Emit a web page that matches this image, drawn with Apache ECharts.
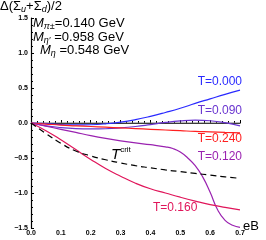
<!DOCTYPE html>
<html><head><meta charset="utf-8">
<script src="https://cdn.jsdelivr.net/npm/echarts@6/dist/echarts.min.js"></script>
<style>html,body{margin:0;padding:0;background:#fff}#c{width:266px;height:240px}</style>
</head><body><div id="c"></div>
<script>
const eB = [0,0.05,0.1,0.15,0.2,0.25,0.3,0.35,0.4,0.45,0.5,0.55,0.6,0.65,0.7];
const T000 = [0,-0.01,-0.022,-0.028,-0.025,-0.012,0.012,0.048,0.095,0.15,0.21,0.28,0.345,0.41,0.47];
const T090 = [0,-0.04,-0.065,-0.08,-0.085,-0.082,-0.07,-0.05,-0.022,0.008,0.03,0.04,0.032,0.005,-0.04];
const T240 = [0,-0.015,-0.03,-0.04,-0.05,-0.06,-0.07,-0.08,-0.09,-0.1,-0.11,-0.12,-0.127,-0.134,-0.14];
const T160 = [0,-0.11,-0.24,-0.38,-0.52,-0.65,-0.76,-0.86,-0.94,-1.0,-1.06,-1.115,-1.165,-1.205,-1.24];
const Tcrit = [0,-0.15,-0.29,-0.4,-0.47,-0.525,-0.57,-0.61,-0.64,-0.67,-0.695,-0.72,-0.745,-0.77,-0.79];
const eB120 = [0,0.05,0.1,0.15,0.2,0.25,0.3,0.35,0.4,0.45,0.475,0.5,0.525,0.55,0.575,0.6,0.625,0.65,0.675,0.7];
const T120 = [0,-0.045,-0.09,-0.135,-0.18,-0.22,-0.255,-0.285,-0.31,-0.34,-0.365,-0.415,-0.5,-0.61,-0.77,-0.99,-1.24,-1.39,-1.46,-1.49];
const xTicks = [0,0.1,0.2,0.3,0.4,0.5,0.6,0.7];
const yTicks = [-1.5,-1.0,-0.5,0.0,0.5,1.0,1.5];

function pairs(xs, ys){ return xs.map((x,i)=>[x, ys[i]]); }
function mk(name, xs, ys, color, dashed){
  return {name, type:'line', data:pairs(xs,ys), showSymbol:false, smooth:true,
    lineStyle:{color, width:1.2, type: dashed?[6,4]:'solid'}, z: 3};
}
const chart = echarts.init(document.getElementById('c'), null, {renderer:'canvas'});
const FF = '"Liberation Sans", Arial, sans-serif';
const tickLbl = {fontSize:7, fontWeight:'bold', color:'#000', fontFamily:FF};
const sub = {fontSize:9, fontStyle:'italic', padding:[6,0,0,0], fontFamily:FF};
chart.setOption({
  animation:false,
  grid:{left:31, right:26, top:18, bottom:12},
  xAxis:{type:'value', min:0, max:0.7, interval:0.1,
    axisLine:{show:true, lineStyle:{color:'#000', width:1.2}},
    axisTick:{show:true, inside:true, length:3, lineStyle:{color:'#000'}},
    minorTick:{show:true, splitNumber:5, length:2, lineStyle:{color:'#000'}},
    splitLine:{show:false},
    axisLabel:Object.assign({margin:2, formatter:v=>v.toFixed(1)}, tickLbl)},
  yAxis:{type:'value', min:-1.5, max:1.5, interval:0.5,
    axisLine:{show:true, lineStyle:{color:'#000', width:1.2}},
    axisTick:{show:true, inside:true, length:3, lineStyle:{color:'#000'}},
    minorTick:{show:true, splitNumber:5, length:2, lineStyle:{color:'#000'}},
    splitLine:{show:false},
    axisLabel:Object.assign({margin:3, formatter:v=>(v<0?'\u2212':'')+Math.abs(v).toFixed(1)}, tickLbl)},
  series:[
    {type:'line', data:[[0,0],[0.7,0]], showSymbol:false, lineStyle:{color:'#777', width:1}, z:2, silent:true},
    mk('T=0.000', eB, T000, '#2a2aff'),
    mk('T=0.090', eB, T090, '#6a35d0'),
    mk('T=0.240', eB, T240, '#ff2020'),
    mk('T=0.120', eB120, T120, '#9a22b0'),
    mk('T=0.160', eB, T160, '#e0155a'),
    mk('Tcrit', eB, Tcrit, '#000', true)
  ],
  graphic:[
    {type:'text', left:0, top:0, style:{text:'Δ(Σ{s|u}+Σ{s|d})/2', fontSize:13, fontFamily:FF, fill:'#000',
      rich:{s:{fontSize:9, fontStyle:'italic', padding:[6,0,0,0], fontFamily:FF}}}},
    {type:'text', left:33, top:17, style:{text:'{i|M}{s|π±}=0.140 GeV', fontSize:13, fontFamily:FF, fill:'#000',
      rich:{i:{fontSize:13, fontStyle:'italic', fontFamily:FF}, s:sub}}},
    {type:'text', left:33, top:31, style:{text:'{i|M}{s|η′} =0.958 GeV', fontSize:13, fontFamily:FF, fill:'#000',
      rich:{i:{fontSize:13, fontStyle:'italic', fontFamily:FF}, s:sub}}},
    {type:'text', left:40, top:44, style:{text:'{i|M}{s|η} =0.548 GeV', fontSize:13, fontFamily:FF, fill:'#000',
      rich:{i:{fontSize:13, fontStyle:'italic', fontFamily:FF}, s:sub}}},
    {type:'text', right:24, top:76, style:{text:'T=0.000', fontSize:12, fontFamily:FF, fill:'#2a2aff'}},
    {type:'text', right:24, top:105, style:{text:'T=0.090', fontSize:12, fontFamily:FF, fill:'#6a35d0'}},
    {type:'text', right:24, top:133, style:{text:'T=0.240', fontSize:12, fontFamily:FF, fill:'#ff2020'}},
    {type:'text', right:24, top:151, style:{text:'T=0.120', fontSize:12, fontFamily:FF, fill:'#9a22b0'}},
    {type:'text', left:153, top:202, style:{text:'T=0.160', fontSize:12, fontFamily:FF, fill:'#e0155a'}},
    {type:'text', left:111, top:146, style:{text:'{i|T}{s|crit}', fontFamily:FF, fill:'#000',
      rich:{i:{fontSize:15, fontStyle:'italic', fontFamily:FF}, s:{fontSize:8, padding:[0,0,9,0], fontFamily:FF}}}},
    {type:'text', left:243, top:220, style:{text:'eB', fontSize:13, fontFamily:FF, fill:'#000'}}
  ]
});
</script></body></html>
